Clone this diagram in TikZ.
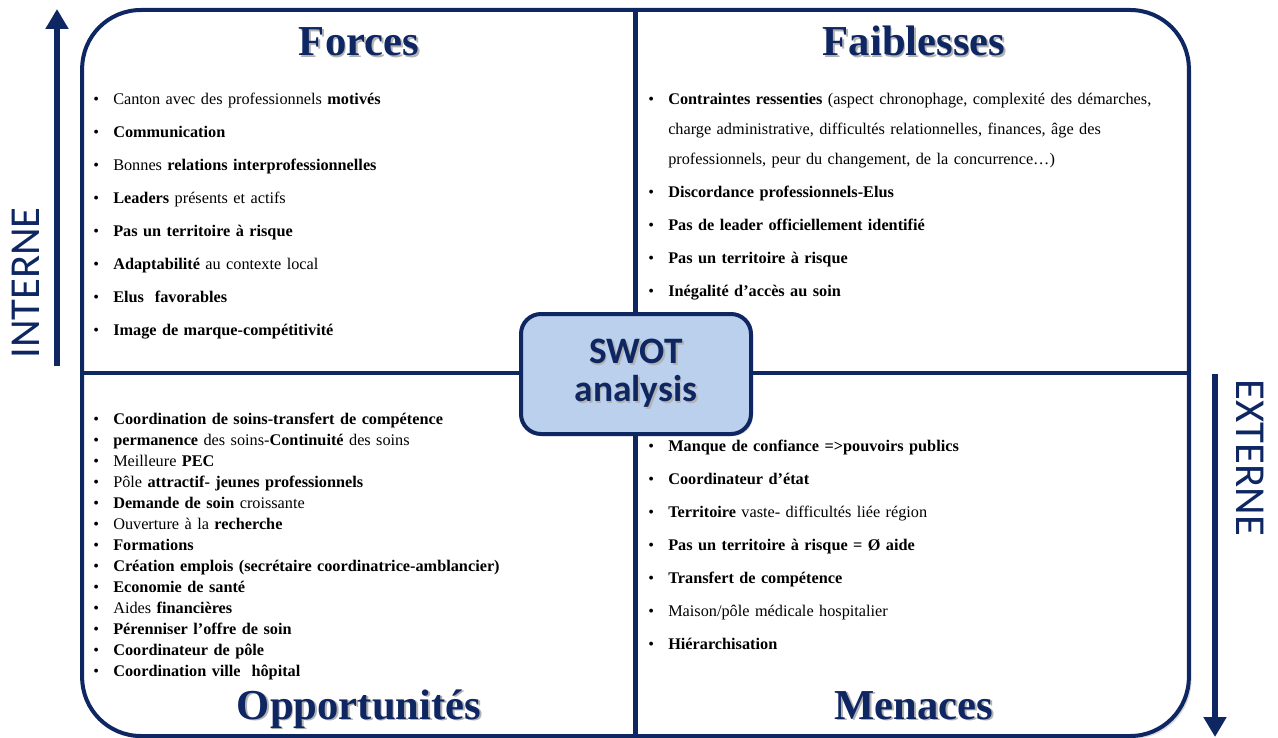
\documentclass[tikz,border=0pt]{standalone}
\usepackage{fontspec}
\setmainfont{Liberation Serif}
\newfontfamily\swotsans{Carlito}
\usetikzlibrary{arrows.meta,shadows}

\definecolor{swotnavy}{RGB}{14,38,98}
\definecolor{swotblue}{RGB}{186,208,236}

% one bullet of a quadrant list
\newcommand{\swotitem}[1]{\hangindent=15pt\hangafter=1\makebox[15pt][l]{\textbullet}#1\par}
% grey shadow behind a heading
\newcommand{\shadowtext}[1]{\rlap{\kern1.3pt\raisebox{-1.3pt}{\textcolor{black!30}{#1}}}#1}

\begin{document}
\begin{tikzpicture}[x=0.75pt,y=-0.75pt]
  \tikzstyle{frame}=[draw=swotnavy, line width=3pt, fill=white, rounded corners=44pt,
      minimum width=830pt, minimum height=544.5pt, inner sep=0pt,
      drop shadow={opacity=0.3, shadow xshift=2pt, shadow yshift=-2pt}]
  \tikzstyle{divider}=[draw=swotnavy, line width=3.5pt]
  \tikzstyle{swotbox}=[draw=swotnavy, line width=3pt, fill=swotblue, rounded corners=15pt,
      minimum width=172.5pt, minimum height=90pt, align=center, text=swotnavy,
      font=\swotsans\bfseries\fontsize{28}{28.5}\selectfont,
      drop shadow={opacity=0.3, shadow xshift=1.5pt, shadow yshift=-1.5pt}]
  \tikzstyle{title}=[anchor=base, text=swotnavy, font=\fontsize{32}{34}\selectfont\bfseries]
  \tikzstyle{itemlist}=[anchor=base west, inner sep=0pt, text width=400pt, align=left,
      font=\fontsize{12.2}{22.5}\selectfont, execute at begin node={\setlength{\parskip}{2.25pt}}]
  \tikzstyle{denselist}=[itemlist, font=\fontsize{12.2}{15.75}\selectfont,
      execute at begin node={\setlength{\parskip}{0pt}}]
  \tikzstyle{axisarrow}=[draw=swotnavy, line width=4.5pt, -{Triangle[width=16.5pt, length=15pt]}]
  \tikzstyle{axislabel}=[text=swotnavy, font=\swotsans\fontsize{32}{34}\selectfont]

  \useasboundingbox (0,0) rectangle (1278,738);

  % = frame and quadrants =
  \node[frame] (frame) at (635.5,373) {};
  \draw[divider] (frame.north) -- (frame.south);
  \draw[divider] (frame.west) -- (frame.east);
  \node[swotbox] (swot) at (636,374) {\shadowtext{SWOT}\\\shadowtext{analysis}};

  % = internal side =
  \coordinate (intfoot) at (57,366);
  \coordinate (inttip) at (57,9);
  \draw[axisarrow] (intfoot) -- (inttip);
  \node[axislabel, rotate=90] (interne) at (26,283) {INTERNE};

  \node[title] (forces) at (359,56) {\shadowtext{Forces}};
  \node[itemlist] (forceslist) at (93,105) {%
    \swotitem{Canton avec des professionnels \textbf{motivés}}
    \swotitem{\textbf{Communication}}
    \swotitem{Bonnes \textbf{relations interprofessionnelles}}
    \swotitem{\textbf{Leaders} présents et actifs}
    \swotitem{\textbf{Pas un territoire à risque}}
    \swotitem{\textbf{Adaptabilité} au contexte local}
    \swotitem{\textbf{Elus\ \ favorables}}
    \swotitem{\textbf{Image de marque-compétitivité}}};

  \node[title] (faiblesses) at (914,56) {\shadowtext{Faiblesses}};
  \node[itemlist] (faiblist) at (648,105) {%
    \swotitem{\textbf{Contraintes ressenties} (aspect chronophage, complexité des démarches,\newline
      charge administrative, difficultés relationnelles, finances, âge des\newline
      professionnels, peur du changement, de la concurrence…)}
    \swotitem{\textbf{Discordance professionnels-Elus}}
    \swotitem{\textbf{Pas de leader officiellement identifié}}
    \swotitem{\textbf{Pas un territoire à risque}}
    \swotitem{\textbf{Inégalité d’accès au soin}}};

  % = external side =
  \coordinate (extfoot) at (1215,374);
  \coordinate (exttip) at (1215,737);
  \draw[axisarrow] (extfoot) -- (exttip);
  \node[axislabel, rotate=-90] (externe) at (1250,458) {EXTERNE};

  \node[title] (opportunites) at (359,719) {\shadowtext{Opportunités}};
  \node[denselist] (opplist) at (93,424) {%
    \swotitem{\textbf{Coordination de soins-transfert de compétence}}
    \swotitem{\textbf{permanence} des soins-\textbf{Continuité} des soins}
    \swotitem{Meilleure \textbf{PEC}}
    \swotitem{Pôle \textbf{attractif- jeunes professionnels}}
    \swotitem{\textbf{Demande de soin} croissante}
    \swotitem{Ouverture à la \textbf{recherche}}
    \swotitem{\textbf{Formations}}
    \swotitem{\textbf{Création emplois (secrétaire coordinatrice-amblancier)}}
    \swotitem{\textbf{Economie de santé}}
    \swotitem{Aides \textbf{financières}}
    \swotitem{\textbf{Pérenniser l’offre de soin}}
    \swotitem{\textbf{Coordinateur de pôle}}
    \swotitem{\textbf{Coordination ville\ \ hôpital}}};

  \node[title] (menaces) at (914,719) {\shadowtext{Menaces}};
  \node[itemlist] (menlist) at (648,451) {%
    \swotitem{\textbf{Manque de confiance =>pouvoirs publics}}
    \swotitem{\textbf{Coordinateur d’état}}
    \swotitem{\textbf{Territoire} vaste- difficultés liée région}
    \swotitem{\textbf{Pas un territoire à risque = Ø aide}}
    \swotitem{\textbf{Transfert de compétence}}
    \swotitem{Maison/pôle médicale hospitalier}
    \swotitem{\textbf{Hiérarchisation}}};
\end{tikzpicture}
\end{document}
